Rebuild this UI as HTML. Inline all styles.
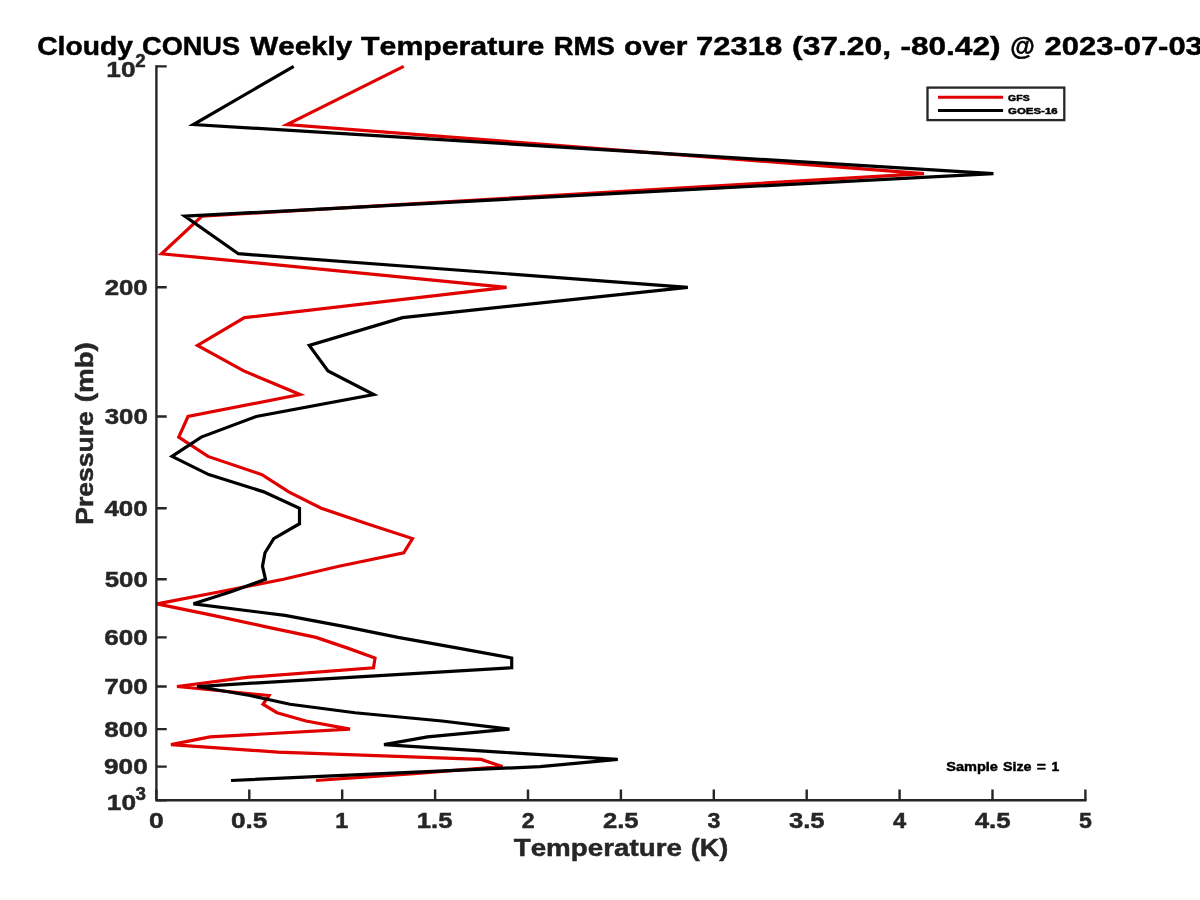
<!DOCTYPE html>
<html><head><meta charset="utf-8"><style>
html,body{margin:0;padding:0;background:#fff;width:1200px;height:900px;overflow:hidden}
svg{display:block;will-change:transform}
text{font-family:"Liberation Sans",sans-serif;font-weight:bold;font-size:100px;font-kerning:none}
</style></head><body>
<svg width="1200" height="900" viewBox="0 0 1200 900">
<rect x="0" y="0" width="1200" height="900" fill="#fff"/>
<polyline points="403.75,66.40 287.00,124.50 924.00,173.63 202.00,216.18 161.50,253.72 506.60,287.30 244.50,317.67 197.50,345.40 243.75,370.91 300.00,394.52 188.00,416.51 178.75,437.08 208.00,456.40 262.00,474.61 288.75,491.85 321.25,508.19 367.00,523.74 412.50,538.57 403.75,552.73 339.00,566.29 283.50,579.30 220.00,591.80 157.00,603.83 213.00,615.42 265.00,626.60 316.00,637.41 347.00,647.86 375.00,657.97 373.50,667.78 247.00,677.30 177.00,686.53 269.00,695.51 263.00,704.24 277.00,712.74 306.00,721.02 350.00,729.09 210.00,736.96 171.00,744.64 278.00,752.13 481.00,759.46 502.50,766.62 414.00,773.63 316.00,780.48" fill="none" stroke="#e00000" stroke-width="3.2" stroke-linejoin="miter" stroke-miterlimit="4"/>
<polyline points="293.75,66.40 193.40,124.50 993.40,173.63 184.70,216.18 238.30,253.72 687.80,287.30 402.50,317.67 309.25,345.40 328.00,370.91 373.75,394.52 256.25,416.51 201.25,437.08 172.00,456.40 208.75,474.61 263.75,491.85 299.50,508.19 299.50,523.74 273.75,538.57 265.00,552.73 262.50,566.29 265.50,579.30 231.00,591.80 193.50,603.83 285.00,615.42 345.00,626.60 398.00,637.41 456.70,647.86 511.70,657.97 511.70,667.78 350.00,677.30 197.00,686.53 250.00,695.51 290.00,704.24 355.00,712.74 442.00,721.02 509.50,729.09 427.50,736.96 384.00,744.64 500.00,752.13 617.75,759.46 540.00,766.62 382.00,773.63 231.00,780.48" fill="none" stroke="#000" stroke-width="3.2" stroke-linejoin="miter" stroke-miterlimit="4"/>
<path d="M156.40,65.20 V801.40 M155.20,800.20 H1086.60" stroke="#262626" stroke-width="2.4" fill="none"/>
<path d="M156.40,66.40 h10.3 M156.40,287.30 h10.3 M156.40,416.51 h10.3 M156.40,508.19 h10.3 M156.40,579.30 h10.3 M156.40,637.41 h10.3 M156.40,686.53 h10.3 M156.40,729.09 h10.3 M156.40,766.62 h10.3 M156.40,800.20 h10.3 M156.40,800.20 v-10.6 M249.30,800.20 v-10.6 M342.20,800.20 v-10.6 M435.10,800.20 v-10.6 M528.00,800.20 v-10.6 M620.90,800.20 v-10.6 M713.80,800.20 v-10.6 M806.70,800.20 v-10.6 M899.60,800.20 v-10.6 M992.50,800.20 v-10.6 M1085.40,800.20 v-10.6" stroke="#262626" stroke-width="2.4" fill="none"/>
<text transform="translate(104.63,294.74) scale(0.25848,0.22251)" fill="#262626" stroke="#262626" stroke-width="2.08" >200</text>
<text transform="translate(104.68,423.96) scale(0.25819,0.22251)" fill="#262626" stroke="#262626" stroke-width="2.08" >300</text>
<text transform="translate(104.42,515.64) scale(0.25980,0.22251)" fill="#262626" stroke="#262626" stroke-width="2.07" >400</text>
<text transform="translate(104.70,586.75) scale(0.25810,0.22251)" fill="#262626" stroke="#262626" stroke-width="2.08" >500</text>
<text transform="translate(104.22,644.85) scale(0.26105,0.22251)" fill="#262626" stroke="#262626" stroke-width="2.07" >600</text>
<text transform="translate(104.15,693.98) scale(0.26145,0.22251)" fill="#262626" stroke="#262626" stroke-width="2.07" >700</text>
<text transform="translate(104.32,736.53) scale(0.26038,0.22251)" fill="#262626" stroke="#262626" stroke-width="2.07" >800</text>
<text transform="translate(104.05,774.07) scale(0.26208,0.22251)" fill="#262626" stroke="#262626" stroke-width="2.06" >900</text>
<text transform="translate(106.34,76.70) scale(0.26282,0.21221)" fill="#262626" stroke="#262626" stroke-width="2.11" >10</text>
<text transform="translate(135.35,67.00) scale(0.18694,0.17878)" fill="#262626" stroke="#262626" stroke-width="2.73" >2</text>
<text transform="translate(106.84,809.90) scale(0.26282,0.21221)" fill="#262626" stroke="#262626" stroke-width="2.11" >10</text>
<text transform="translate(135.57,800.00) scale(0.18710,0.17878)" fill="#262626" stroke="#262626" stroke-width="2.73" >3</text>
<text transform="translate(149.05,827.70) scale(0.26498,0.22251)" fill="#262626" stroke="#262626" stroke-width="2.05" >0</text>
<text transform="translate(230.90,827.70) scale(0.26256,0.22251)" fill="#262626" stroke="#262626" stroke-width="2.06" >0.5</text>
<text transform="translate(335.34,828.00) scale(0.23204,0.22251)" fill="#262626" stroke="#262626" stroke-width="2.20" >1</text>
<text transform="translate(416.80,827.70) scale(0.25680,0.22251)" fill="#262626" stroke="#262626" stroke-width="2.09" >1.5</text>
<text transform="translate(521.64,827.70) scale(0.23109,0.22251)" fill="#262626" stroke="#262626" stroke-width="2.20" >2</text>
<text transform="translate(602.97,827.70) scale(0.25665,0.22251)" fill="#262626" stroke="#262626" stroke-width="2.09" >2.5</text>
<text transform="translate(707.50,827.70) scale(0.23207,0.22251)" fill="#262626" stroke="#262626" stroke-width="2.20" >3</text>
<text transform="translate(788.95,827.70) scale(0.25632,0.22251)" fill="#262626" stroke="#262626" stroke-width="2.09" >3.5</text>
<text transform="translate(892.89,828.00) scale(0.23718,0.22251)" fill="#262626" stroke="#262626" stroke-width="2.18" >4</text>
<text transform="translate(974.71,827.70) scale(0.25826,0.22251)" fill="#262626" stroke="#262626" stroke-width="2.08" >4.5</text>
<text transform="translate(1078.92,827.70) scale(0.23164,0.22251)" fill="#262626" stroke="#262626" stroke-width="2.20" >5</text>
<text transform="translate(513.70,856.00) scale(0.27785,0.24709)" fill="#262626" stroke="#262626" stroke-width="1.90" >Temperature</text>
<text transform="translate(690.79,856.00) scale(0.27043,0.24709)" fill="#262626" stroke="#262626" stroke-width="1.93" >(K)</text>
<text transform="translate(93.00,524.77) rotate(-90) scale(0.26564,0.24709)" fill="#262626" stroke="#262626" stroke-width="1.95" >Pressure</text>
<text transform="translate(93.00,402.27) rotate(-90) scale(0.27766,0.24709)" fill="#262626" stroke="#262626" stroke-width="1.91" >(mb)</text>
<text transform="translate(37.14,54.60) scale(0.28262,0.25436)" fill="#000" stroke="#000" stroke-width="1.86" >Cloudy</text>
<text transform="translate(142.05,54.60) scale(0.27137,0.25436)" fill="#000" stroke="#000" stroke-width="1.90" >CONUS</text>
<text transform="translate(250.25,54.60) scale(0.29612,0.25436)" fill="#000" stroke="#000" stroke-width="1.82" >Weekly</text>
<text transform="translate(361.09,54.60) scale(0.30265,0.25436)" fill="#000" stroke="#000" stroke-width="1.80" >Temperature</text>
<text transform="translate(553.77,54.60) scale(0.27433,0.25436)" fill="#000" stroke="#000" stroke-width="1.89" >RMS</text>
<text transform="translate(624.11,54.60) scale(0.29959,0.25436)" fill="#000" stroke="#000" stroke-width="1.81" >over</text>
<text transform="translate(696.06,54.60) scale(0.30964,0.25436)" fill="#000" stroke="#000" stroke-width="1.77" >72318</text>
<text transform="translate(792.04,54.60) scale(0.31828,0.25436)" fill="#000" stroke="#000" stroke-width="1.75" >(37.20,</text>
<text transform="translate(900.38,54.60) scale(0.31645,0.25436)" fill="#000" stroke="#000" stroke-width="1.75" >-80.42)</text>
<text transform="translate(1010.15,54.60) scale(0.25119,0.25436)" fill="#000" stroke="#000" stroke-width="1.98" >@</text>
<text transform="translate(1044.57,54.60) scale(0.30939,0.25436)" fill="#000" stroke="#000" stroke-width="1.77" >2023-07-03</text>
<rect x="927.5" y="87.6" width="136.80" height="32.50" fill="#fff" stroke="#262626" stroke-width="2.3"/>
<path d="M938,97.35 H1003.1" stroke="#e00000" stroke-width="3"/>
<path d="M938,110.5 H1003.1" stroke="#000" stroke-width="3"/>
<text transform="translate(1008.07,100.80) scale(0.10529,0.09884)" fill="#000" stroke="#000" stroke-width="4.90" >GFS</text>
<text transform="translate(1008.03,113.90) scale(0.11461,0.09738)" fill="#000" stroke="#000" stroke-width="4.72" >GOES-16</text>
<text transform="translate(946.18,770.60) scale(0.14560,0.13663)" fill="#000" stroke="#000" stroke-width="3.54" >Sample</text>
<text transform="translate(1002.94,770.60) scale(0.14267,0.13663)" fill="#000" stroke="#000" stroke-width="3.58" >Size</text>
<text transform="translate(1036.66,770.60) scale(0.15666,0.13663)" fill="#000" stroke="#000" stroke-width="3.41" >=</text>
<text transform="translate(1051.40,770.60) scale(0.13867,0.13663)" fill="#000" stroke="#000" stroke-width="3.63" >1</text>
</svg>
</body></html>
